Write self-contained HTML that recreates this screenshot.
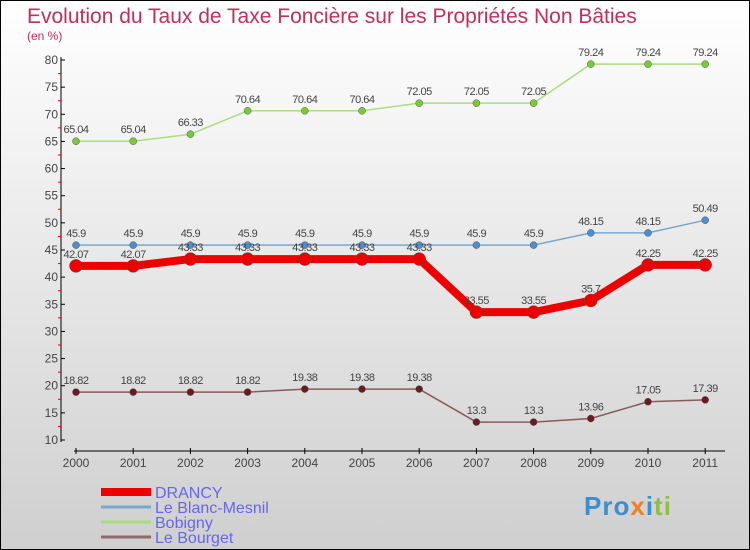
<!DOCTYPE html>
<html><head><meta charset="utf-8"><style>
body{margin:0}
#c{width:750px;height:550px;position:relative;box-sizing:border-box;border:1px solid #000;background:linear-gradient(#ffffff,#cfcfcf);font-family:"Liberation Sans",sans-serif;overflow:hidden}
</style></head><body>
<div id="c">
<svg id="s" width="750" height="550" style="position:absolute;left:-1px;top:-1px">
<text x="27" y="23" font-size="21" fill="#c0305a">Evolution du Taux de Taxe Foncière sur les Propriétés Non Bâties</text>
<text x="27" y="40" font-size="12" fill="#c0305a">(en %)</text>
<g id="g"></g>
</svg>
<div style="position:absolute;left:583px;top:490px;font-size:26px;font-weight:bold;letter-spacing:1px"><span style="color:#3a8fd0">Pro</span><span style="color:#f08020">x</span><span style="color:#3a8fd0">i</span><span style="color:#8cc040">ti</span></div>
</div>
<script>
const years=[2000,2001,2002,2003,2004,2005,2006,2007,2008,2009,2010,2011];
const drancy=[42.07,42.07,43.33,43.33,43.33,43.33,43.33,33.55,33.55,35.7,42.25,42.25];
const blanc=[45.9,45.9,45.9,45.9,45.9,45.9,45.9,45.9,45.9,48.15,48.15,50.49];
const bobigny=[65.04,65.04,66.33,70.64,70.64,70.64,72.05,72.05,72.05,79.24,79.24,79.24];
const bourget=[18.82,18.82,18.82,18.82,19.38,19.38,19.38,13.3,13.3,13.96,17.05,17.39];
const yTicks=[10,15,20,25,30,35,40,45,50,55,60,65,70,75,80];
const NS="http://www.w3.org/2000/svg";
const g=document.getElementById('g');
const X=i=>76+i*57.2;
const Y=v=>60+(80-v)*380/70;
function mk(t,a,p){const e=document.createElementNS(NS,t);for(const k in a)e.setAttribute(k,a[k]);(p||g).appendChild(e);return e;}
let e;
e=mk('line',{x1:61,y1:57,x2:61,y2:442,stroke:'#000'});


e=mk('line',{x1:74,y1:451,x2:725,y2:451,stroke:'#000'});


yTicks.forEach(v=>{
 mk('line',{x1:61,y1:Y(v),x2:65,y2:Y(v),stroke:'#000'});
 if(v<80) mk('line',{x1:58,y1:Y(v+2.5),x2:61,y2:Y(v+2.5),stroke:'#e00'});
 e=mk('text',{x:58,y:Y(v)+4,'font-size':12,fill:'#444','text-anchor':'end'});e.textContent=v;
 
 
});
years.forEach((yr,i)=>{
 mk('line',{x1:X(i),y1:448,x2:X(i),y2:454,stroke:'#000'});
 e=mk('text',{x:X(i),y:467,'font-size':12,fill:'#444','text-anchor':'middle'});e.textContent=yr;
 
 
});
function series(d,col,dot,w,r,name){
 e=mk('polyline',{points:d.map((v,i)=>X(i)+','+Y(v)).join(' '),fill:'none',stroke:col,'stroke-width':w,'stroke-linejoin':'round'});
 
 
 d.forEach((v,i)=>{
  e=mk('circle',{cx:X(i),cy:Y(v),r:r,fill:dot,stroke:'#555','stroke-width':0.5});
  
  
  e=mk('text',{x:X(i),y:Y(v)-8,'font-size':11,fill:'#444','text-anchor':'middle','letter-spacing':'-0.5'});e.textContent=v;
  
  
 });
}
series(bobigny,'#a8dd80','#77cc33',1.5,3.5,'bobigny');
series(blanc,'#7aa8cc','#4a90d0',1.5,3.5,'blanc-mesnil');
series(bourget,'#8a5a5a','#6a1a20',1.5,3.5,'le-bourget');
series(drancy,'#ee0000','#ee0000',8,6.5,'drancy');
const leg=[['DRANCY','#ee0000',8],['Le Blanc-Mesnil','#7aa8cc',3],['Bobigny','#a8dd80',3],['Le Bourget','#8a6a6a',3]];
leg.forEach((l,i)=>{
 const y=492+i*15;
 e=mk('line',{x1:101,y1:y,x2:151,y2:y,stroke:l[1],'stroke-width':l[2]});
 
 
 e=mk('text',{x:155,y:y+6,'font-size':16,fill:'#6666ee'});e.textContent=l[0];
 
 
});
</script>
</body></html>
